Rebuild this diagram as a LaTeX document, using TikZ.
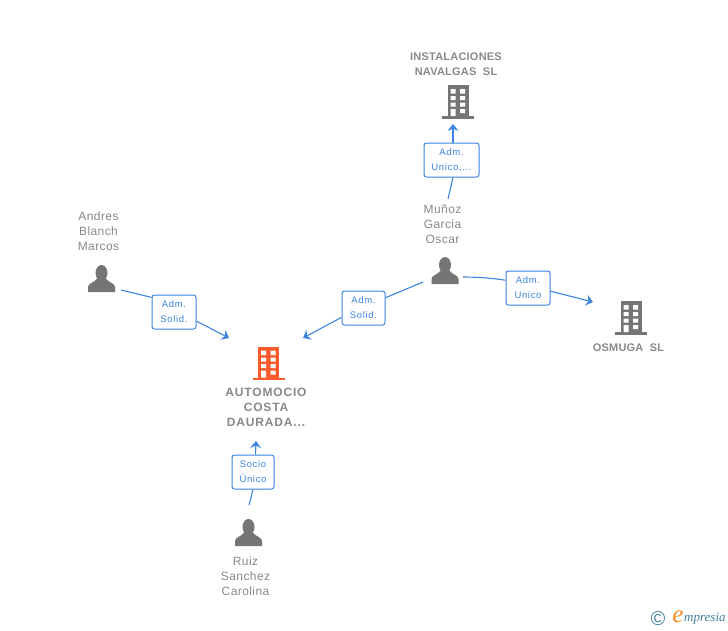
\documentclass[tikz,border=0pt]{standalone}
\usepackage{fontspec}
\setmainfont{Liberation Sans}
\newfontfamily\logofont{Liberation Serif}
\newcommand{\spaced}[1]{\addfontfeature{LetterSpace=#1}}
\usetikzlibrary{arrows.meta}
\definecolor{linkblue}{HTML}{3C84E0}
\definecolor{icongray}{HTML}{757575}
\definecolor{labelgray}{HTML}{888888}
\definecolor{iconorange}{HTML}{FF5A2B}
\definecolor{logoteal}{HTML}{3F7F9B}
\definecolor{logoorange}{HTML}{F28A1E}
\tikzset{
  badge/.style={draw=linkblue, line width=1pt, rounded corners=2.5pt, fill=white, text=linkblue,
    minimum height=34pt, align=center, inner sep=0pt, font=\fontsize{9.5}{15}\selectfont\spaced{7},
    execute at begin node={\rule{0pt}{11pt}}},
  link/.style={draw=linkblue, line width=1.1pt},
  linkarrow/.style={link, -{Stealth[length=7pt,width=11pt,inset=2.5pt]}},
  company/.style={text=labelgray, align=center, inner sep=0pt, font=\fontsize{12}{15}\selectfont\bfseries\spaced{7}},
  smallcompany/.style={company, font=\fontsize{11}{15}\selectfont\bfseries\spaced{2}},
  person/.style={text=labelgray, align=center, inner sep=0pt, font=\fontsize{12}{15}\selectfont\spaced{3.5}},
  pics/building/.style={code={
    \fill[#1] (-10.5,0) rectangle (10.5,31);
    \fill[#1] (-16,31) rectangle (16,33.5);
    \fill[white] (-7.5,4) rectangle (-2.5,8.5) (2,4) rectangle (7,8.5);
    \fill[white] (-7.5,11) rectangle (-2.5,15) (2,11) rectangle (7,15);
    \fill[white] (-7.5,17.5) rectangle (-2.5,21.5) (2,17.5) rectangle (7,21.5);
    \fill[white] (-7.5,24) rectangle (-2.5,31) (2,24) rectangle (7,28);
  }},
  pics/avatar/.style={code={
    \fill[icongray] (0,8) ellipse (6 and 8);
    \fill[icongray] (-13.5,27) -- (-13.5,22) .. controls (-13.5,18) and (-7,18) .. (-4,13)
      -- (4,13) .. controls (7,18) and (13.5,18) .. (13.5,22) -- (13.5,27) -- cycle;
  }},
}
\begin{document}
\begin{tikzpicture}[x=1pt,y=-1pt]
  \useasboundingbox (0,0) rectangle (728,630);
  % Icons
  \pic at (268.5,346.5) {building=iconorange};
  \pic at (458,85) {building=icongray};
  \pic at (631,301) {building=icongray};
  \pic at (101.5,265) {avatar};
  \pic at (445,257) {avatar};
  \pic at (248.5,519) {avatar};
  % Labels
  \node[company] (automocio) at (266,407.5) {AUTOMOCIO\\COSTA\\DAURADA...};
  \node[smallcompany] (navalgas) at (456,64.5) {INSTALACIONES\\NAVALGAS\ \ SL};
  \node[smallcompany] (osmuga) at (628.5,348) {OSMUGA\ \ SL};
  \node[person] (andres) at (98.5,231) {Andres\\Blanch\\Marcos};
  \node[person] (munoz) at (442.5,224) {Muñoz\\Garcia\\Oscar};
  \node[person] (ruiz) at (245.5,576) {Ruiz\\Sanchez\\Carolina};
  % Badges
  \node[badge, minimum width=44pt] (badgeandres) at (174,312) {Adm.\\Solid.};
  \node[badge, minimum width=43pt] (badgemunoz) at (363.5,308) {Adm.\\Solid.};
  \node[badge, minimum width=55pt] (badgenavalgas) at (451.5,160) {Adm.\\Unico,...};
  \node[badge, minimum width=44pt] (badgeosmuga) at (528,288) {Adm.\\Unico};
  \node[badge, minimum width=42pt] (badgeruiz) at (253,472) {Socio\\Único};
  % Free ends
  \coordinate (fromandres) at (121,290);
  \coordinate (toautoA) at (229,338);
  \coordinate (frommunozA) at (423,282);
  \coordinate (toautoB) at (303,338);
  \coordinate (frommunozB) at (448,199);
  \coordinate (tonavalgas) at (453,124);
  \coordinate (frommunozC) at (463,277);
  \coordinate (toosmuga) at (593,302);
  \coordinate (fromruiz) at (249,505);
  \coordinate (toautoC) at (256,441);
  % Connectors
  \draw[link] (fromandres) -- (badgeandres.147);
  \draw[linkarrow] (badgeandres.-22) -- (toautoA);
  \draw[link] (frommunozA) -- (badgemunoz.25);
  \draw[linkarrow] (badgemunoz.203) -- (toautoB);
  \draw[link] (frommunozB) -- ([xshift=1.5pt]badgenavalgas.south);
  \draw[linkarrow] ([xshift=1.5pt]badgenavalgas.north) -- (tonavalgas);
  \draw[link] (frommunozC) .. controls (480,277) and (495,278.5) .. (badgeosmuga.161);
  \draw[linkarrow] (badgeosmuga.-8) -- (toosmuga);
  \draw[link] (fromruiz) -- (badgeruiz.south);
  \draw[linkarrow] ([xshift=2.5pt]badgeruiz.north) -- (toautoC);
  % Logo
  \node[text=logoteal, inner sep=0pt, font=\fontsize{20}{20}\selectfont] (copyright) at (658,619) {©};
  \node[text=logoorange, inner sep=0pt, font=\logofont\itshape\fontsize{25}{25}\selectfont] (logoe) at (678,617) {e};
  \node[text=logoteal, inner sep=0pt, anchor=west, font=\logofont\itshape\fontsize{13}{13}\selectfont] (logotext) at (684,619) {mpresia};
\end{tikzpicture}
\end{document}
